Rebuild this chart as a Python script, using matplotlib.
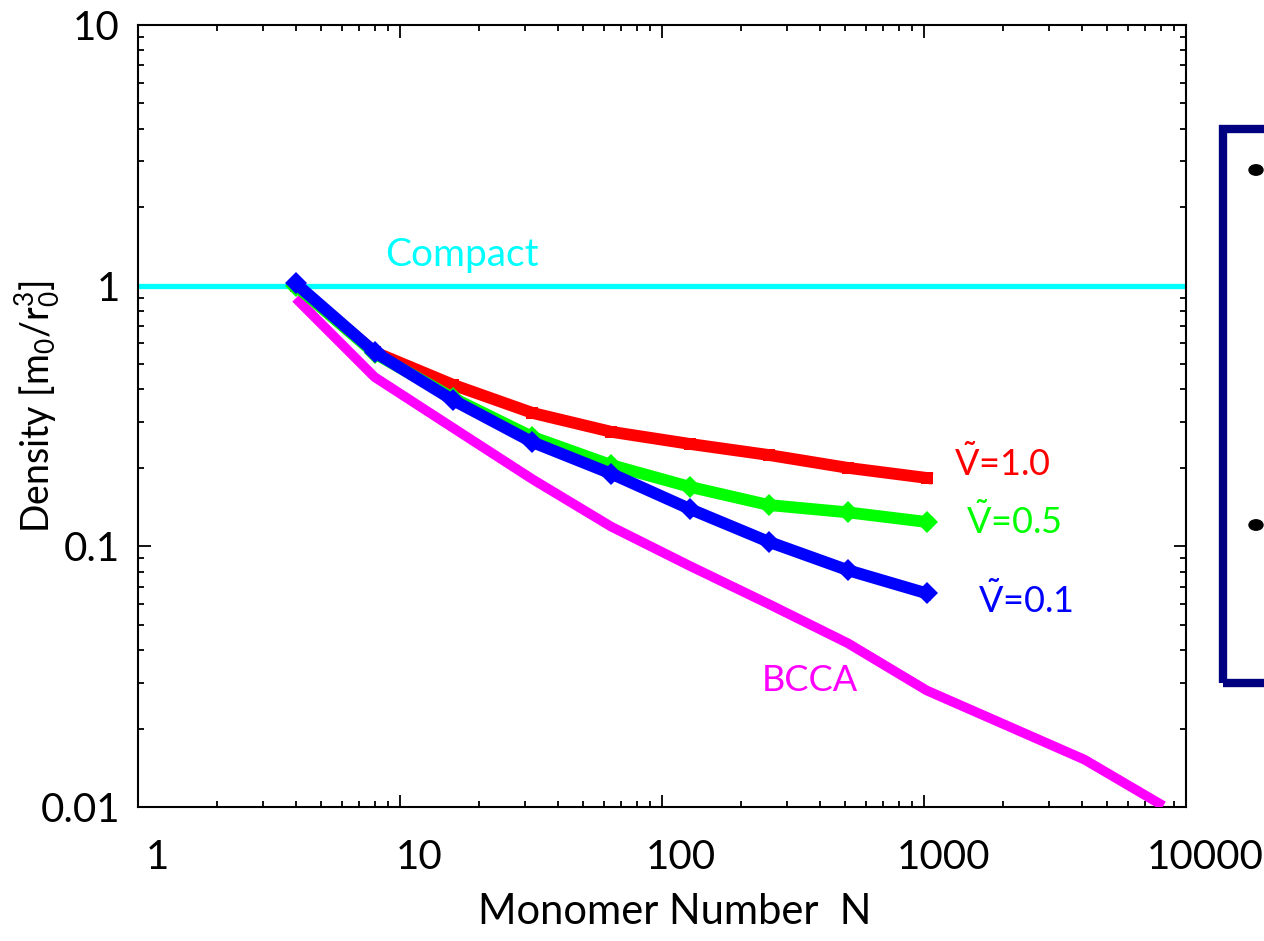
import matplotlib
matplotlib.use("Agg")
import matplotlib.pyplot as plt
from matplotlib.transforms import ScaledTranslation
from matplotlib.patches import Rectangle, Circle

plt.rcParams['font.family'] = ['Lato', 'DejaVu Sans']
plt.rcParams['mathtext.fontset'] = 'custom'
plt.rcParams['mathtext.rm'] = 'Lato'
plt.rcParams['mathtext.it'] = 'Lato'

# ---- data ----
n_sim = [4, 8, 16, 32, 64, 128, 256, 512, 1024]
rho_v10 = [1.0, 0.556, 0.416, 0.325, 0.275, 0.247, 0.224, 0.200, 0.183]
rho_v05 = [1.0, 0.55, 0.37, 0.263, 0.205, 0.169, 0.144, 0.135, 0.124]
rho_v01 = [1.02, 0.556, 0.363, 0.251, 0.190, 0.139, 0.104, 0.081, 0.066]

n_bcca = [4, 8, 16, 32, 64, 128, 256, 512, 1024, 4096, 8192]
rho_bcca = [0.895, 0.446, 0.284, 0.181, 0.119, 0.084, 0.060, 0.0425, 0.028, 0.0152, 0.0101]

compact_level = 1.0
x_ticks = [1, 10, 100, 1000, 10000]
x_ticklabels = ["1", "10", "100", "1000", "10000"]
y_ticks = [0.01, 0.1, 1, 10]
y_ticklabels = ["0.01", "0.1", "1", "10"]

# ---- figure ----
W, H = 1264, 941
fig = plt.figure(figsize=(W / 100, H / 100), dpi=100)
ax = fig.add_axes([138 / W, 1 - 807 / H, (1186 - 138) / W, (807 - 25) / H])

ax.axhline(compact_level, color="#00FFFF", lw=3.8, zorder=2)
ax.plot(n_bcca, rho_bcca, color="#FF00FF", lw=7, solid_capstyle="butt", zorder=3)
ax.plot(n_sim, rho_v10, color="#FF0000", lw=8.5, marker="s", ms=9, mew=0, zorder=4)
ax.plot(n_sim, rho_v05, color="#00FF00", lw=8.5, marker="D", ms=11, mew=0, zorder=5)
ax.plot(n_sim, rho_v01, color="#0000FF", lw=8.5, marker="D", ms=11, mew=0, zorder=6)

ax.set_xscale("log")
ax.set_yscale("log")
ax.set_xlim(1, 10000)
ax.set_ylim(0.01, 10)

ax.set_xticks(x_ticks)
ax.set_xticklabels(x_ticklabels)
ax.set_yticks(y_ticks)
ax.set_yticklabels(y_ticklabels)
ax.tick_params(which="both", direction="in", top=True, right=True, width=1.3, colors="black")
ax.tick_params(which="major", length=9, labelsize=29)
ax.tick_params(which="minor", length=4.5)
ax.tick_params(axis="x", which="major", pad=23)
ax.tick_params(axis="y", which="major", pad=13)
for s in ax.spines.values():
    s.set_linewidth(1.5)

# x labels sit a bit right of their ticks in the original
shift = ScaledTranslation(0.19, 0, fig.dpi_scale_trans)
for lab in ax.get_xticklabels():
    lab.set_transform(lab.get_transform() + shift)

fig.text(675 / W, 1 - 912 / H, "Monomer Number  N", fontsize=30, ha="center", va="center")
fig.text(38 / W, 1 - 406 / H, r"Density [m$_\mathregular{0}$/r$_\mathregular{0}^\mathregular{3}$]",
         fontsize=27, rotation=90, ha="center", va="center")

# curve labels
ax.text(17.3, 1.31, "Compact", color="#00FFFF", fontsize=28, ha="center", va="center")
ax.text(1985, 0.21, r"$\mathregular{\tilde{V}}$=1.0", color="#FF0000", fontsize=26, ha="center", va="center")
ax.text(2200, 0.125, r"$\mathregular{\tilde{V}}$=0.5", color="#00FF00", fontsize=26, ha="center", va="center")
ax.text(2450, 0.0625, r"$\mathregular{\tilde{V}}$=0.1", color="#0000FF", fontsize=26, ha="center", va="center")
ax.text(367, 0.0305, "BCCA", color="#FF00FF", fontsize=26, ha="center", va="center")

# cut-off slide box on the right
box = Rectangle((1223 / W, 1 - 683 / H), 200 / W, (683 - 129) / H, transform=fig.transFigure,
                fill=False, edgecolor="#000080", lw=6, clip_on=False)
fig.patches.append(box)
for yb in [170, 525]:
    fig.patches.append(Circle((1256 / W, 1 - yb / H), 7 / W, transform=fig.transFigure,
                              color="black", clip_on=False))

plt.savefig("out.png", dpi=100)
